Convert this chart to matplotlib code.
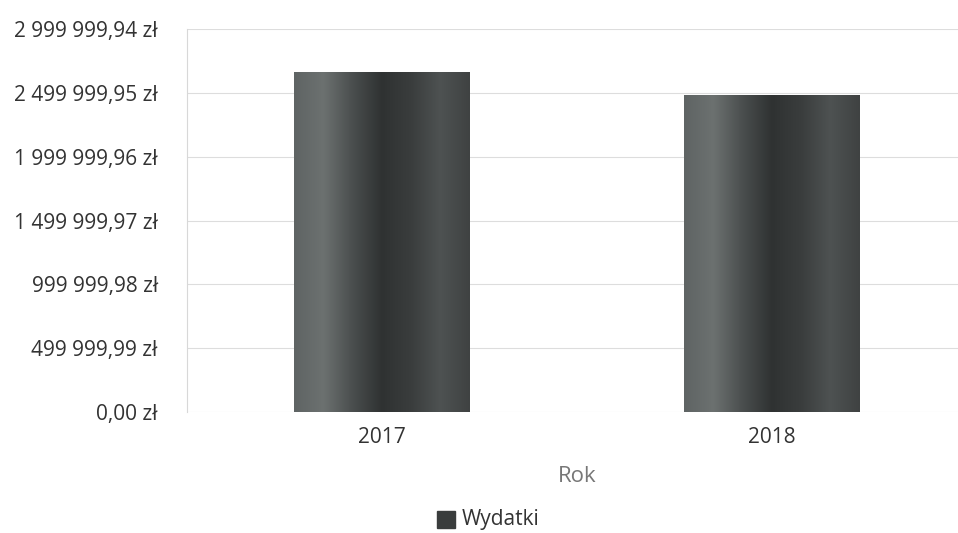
import numpy as np
from matplotlib import pyplot as plt
from matplotlib.colors import LinearSegmentedColormap

plt.rcParams['font.family'] = ['Open Sans', 'DejaVu Sans']

years = ['2017', '2018']
wydatki = [2663000, 2483000]
y_ticks = [0, 499999.99, 999999.98, 1499999.97, 1999999.96, 2499999.95, 2999999.94]
y_labels = ['0,00 zł', '499 999,99 zł', '999 999,98 zł', '1 499 999,97 zł',
            '1 999 999,96 zł', '2 499 999,95 zł', '2 999 999,94 zł']

fig = plt.figure(figsize=(9.58, 5.33), dpi=100)
ax = fig.add_axes([187 / 958, 1 - 412 / 533, 780 / 958, 383 / 533])

# gradient for the bars: lighter left, dark middle, grey right
cmap = LinearSegmentedColormap.from_list(
    'bar', ['#5f6464', '#6c7170', '#4a4e4e', '#2f3232', '#3a3d3d', '#4e5252', '#3f4242'])
grad = np.linspace(0, 1, 256).reshape(1, -1)

bars = ax.bar(range(len(years)), wydatki, width=0.45, color='#444848', zorder=2)
for b in bars:
    x0, w, h = b.get_x(), b.get_width(), b.get_height()
    im = ax.imshow(grad, cmap=cmap, aspect='auto', extent=[x0, x0 + w, 0, h], zorder=3)
    im.set_clip_path(b)

ax.set_xlim(-0.5, 1.5)
ax.set_ylim(0, y_ticks[-1])
ax.set_yticks(y_ticks)
ax.set_yticklabels(y_labels)
ax.set_xticks(range(len(years)))
ax.set_xticklabels(years)
ax.tick_params(axis='y', length=0, pad=21, labelsize=15, labelcolor='#333333')
ax.tick_params(axis='x', length=0, pad=11, labelsize=15, labelcolor='#333333')
ax.grid(axis='y', color='#dddddd', linewidth=0.8, zorder=0)
ax.set_axisbelow(True)
for s in ['top', 'right', 'bottom']:
    ax.spines[s].set_visible(False)
ax.spines['left'].set_color('#d8d8d8')
ax.spines['left'].set_linewidth(0.8)

fig.text(577 / 958, 1 - 477 / 533, 'Rok', ha='center', va='center', fontsize=16, color='#777777')

# legend
fig.patches.append(plt.Rectangle((437 / 958, 1 - 528 / 533), 18 / 958, 17 / 533,
                                 transform=fig.transFigure, color='#3a3d3d'))
fig.text(462 / 958, 1 - 520 / 533, 'Wydatki', ha='left', va='center', fontsize=15, color='#333333')

fig.savefig('out.png', dpi=100)
